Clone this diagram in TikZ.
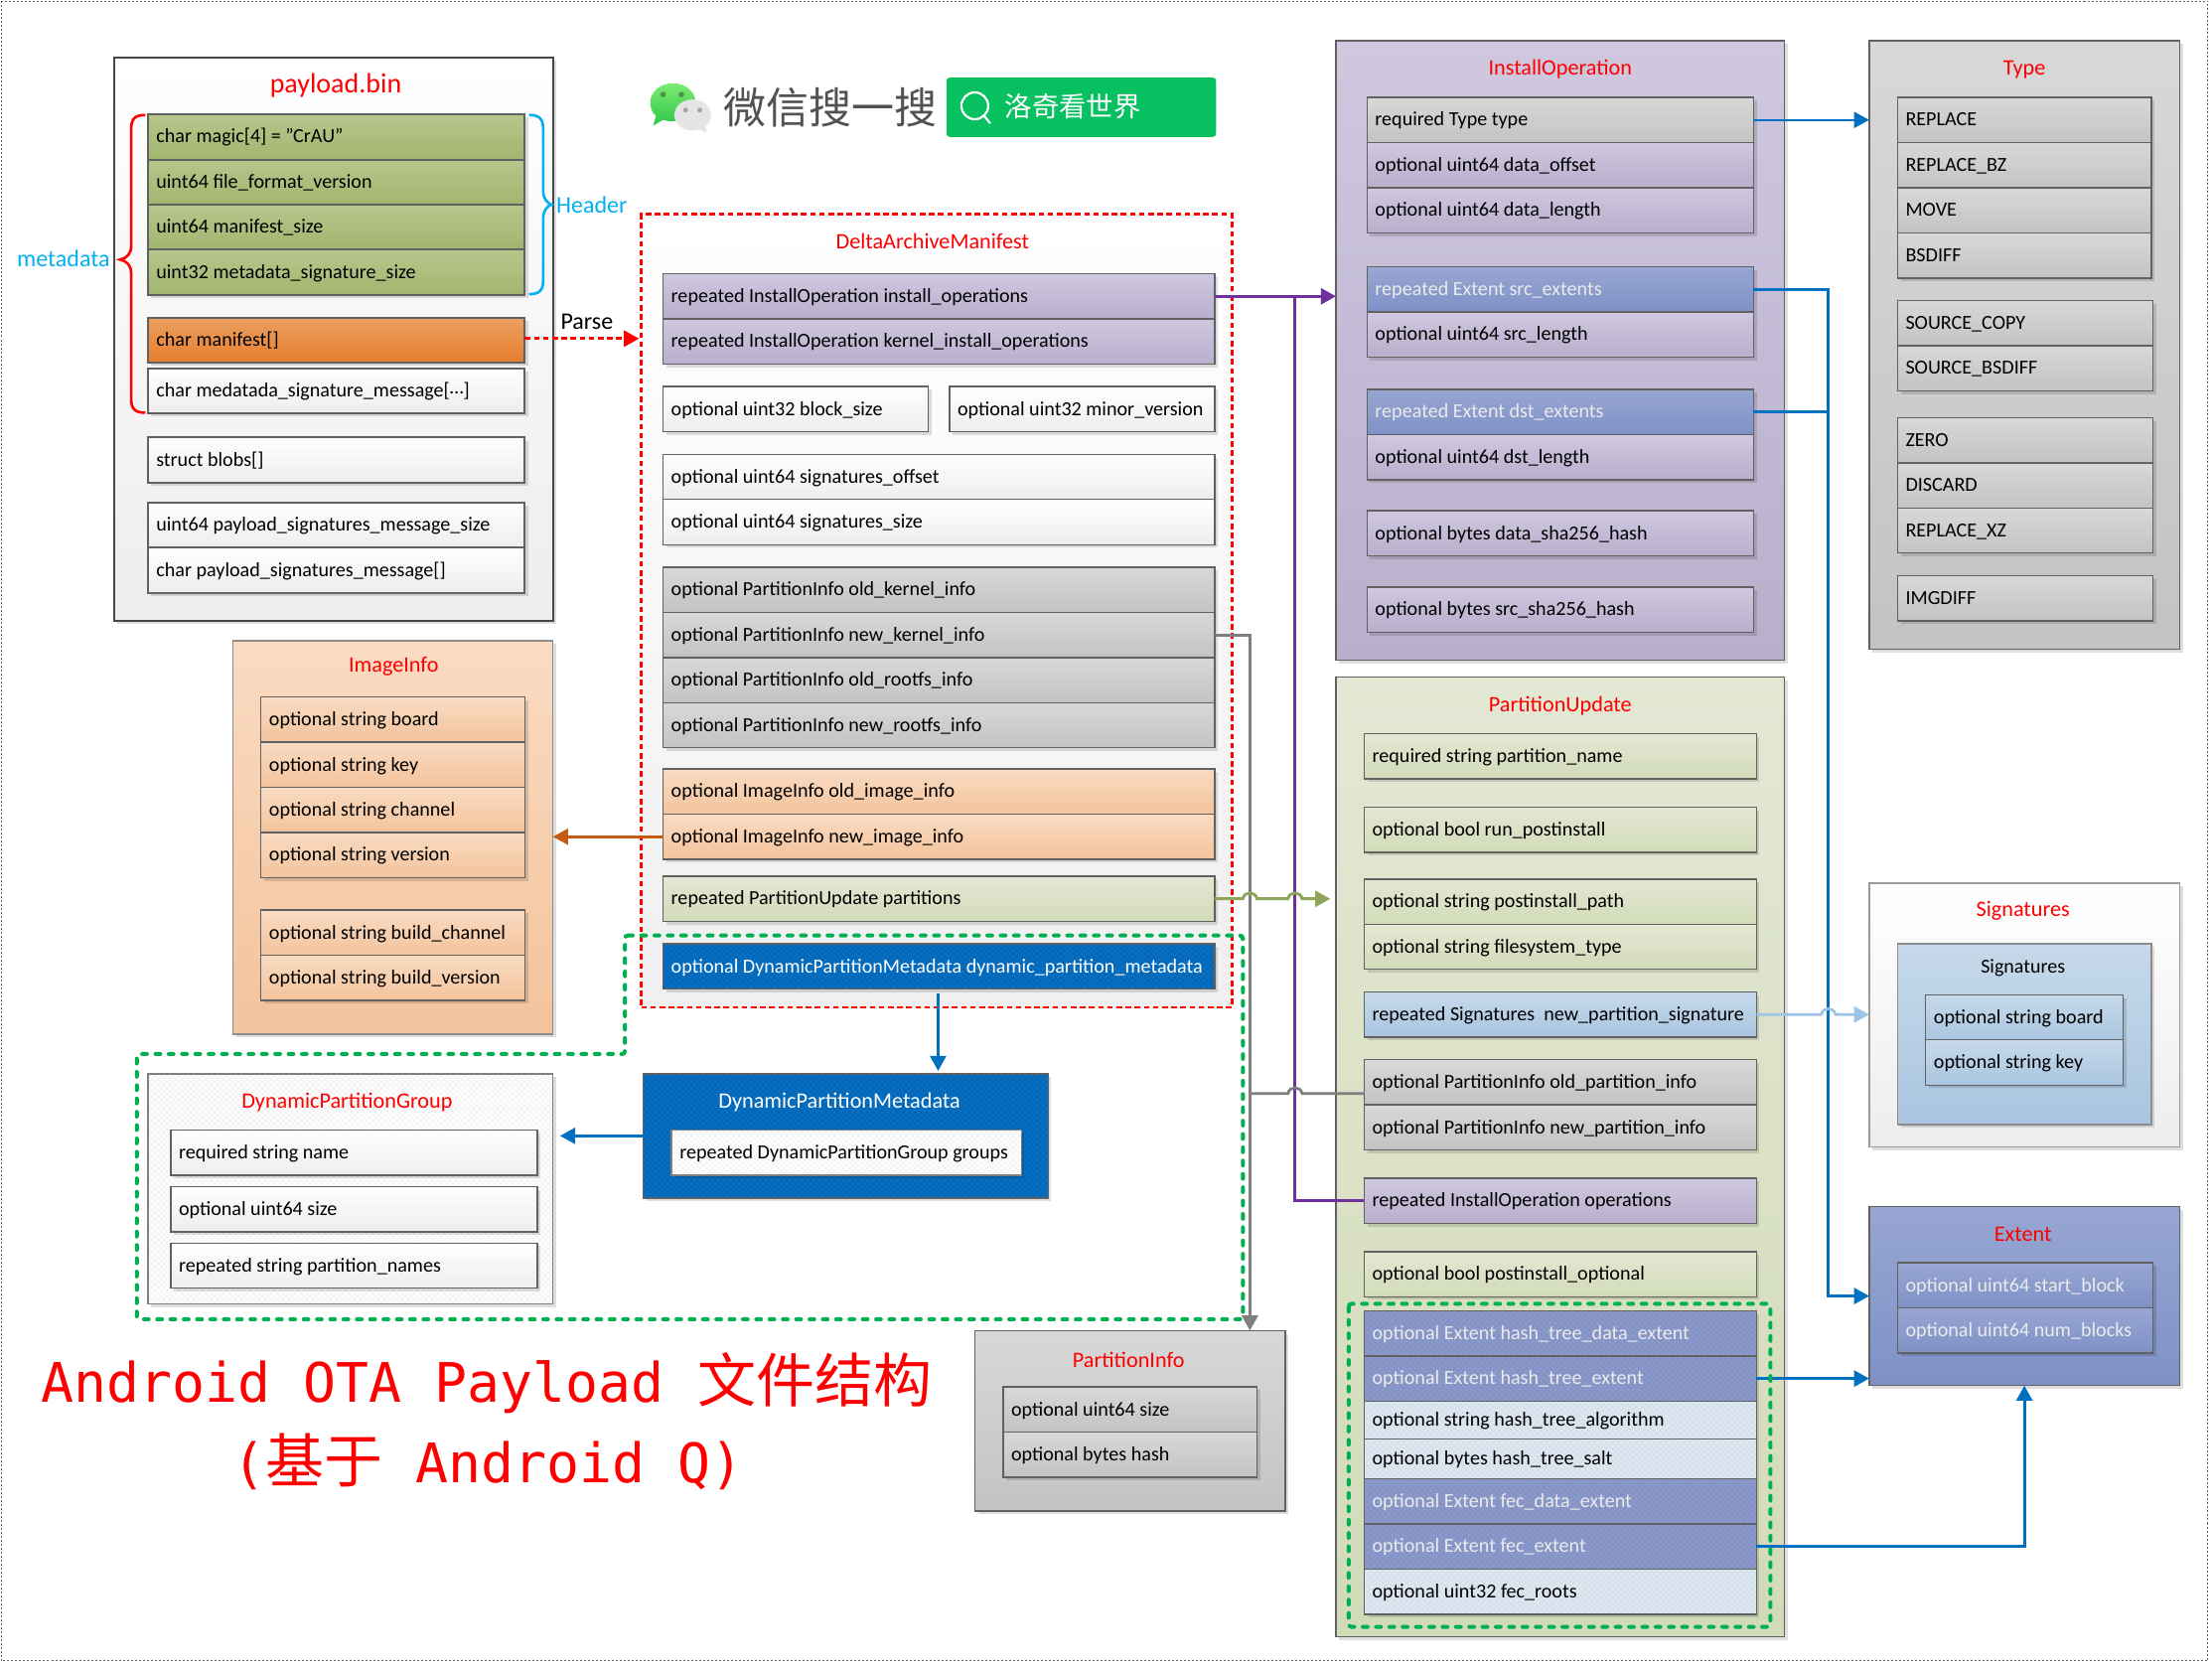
\documentclass[tikz,border=0pt]{standalone}
\usepackage{fontspec}
\setmainfont{Carlito}
\newfontfamily\cjkf{Noto Sans CJK SC}
\newfontfamily\monof{DejaVu Sans Mono}
\usetikzlibrary{shadows,patterns,calc,arrows.meta}
\definecolor{rd}{HTML}{FF0000}
\definecolor{cyn}{HTML}{00B0F0}
\definecolor{grn}{HTML}{00B050}
\definecolor{blu}{HTML}{0070C0}
\definecolor{pur}{HTML}{7030A0}
\definecolor{oli}{HTML}{8FA65A}
\definecolor{gry}{HTML}{7F7F7F}
\definecolor{org}{HTML}{C55A11}
\definecolor{lbl}{HTML}{9DC3E6}
\definecolor{gT}{HTML}{7CEB72}\definecolor{gB}{HTML}{2EC74B}
\definecolor{wxg}{HTML}{07C160}
\definecolor{olT}{HTML}{B7C68C}\definecolor{olB}{HTML}{A2B56E}
\definecolor{orT}{HTML}{EB9F60}\definecolor{orB}{HTML}{E67E30}
\definecolor{puT}{HTML}{CFC8DF}\definecolor{puB}{HTML}{B8AFCC}
\definecolor{grT}{HTML}{D8D8D8}\definecolor{grB}{HTML}{C3C3C3}
\definecolor{peT}{HTML}{FADBC2}\definecolor{peB}{HTML}{F3C39C}
\definecolor{geT}{HTML}{E3E8D4}\definecolor{geB}{HTML}{D2DBB8}
\definecolor{skT}{HTML}{C6D9EA}\definecolor{skB}{HTML}{A9C5E0}
\definecolor{bl1}{HTML}{97A6D2}\definecolor{bl2}{HTML}{7E91C7}
\definecolor{bl3}{HTML}{8C9ACB}\definecolor{bl4}{HTML}{8291C4}
\definecolor{pl1}{HTML}{DEE8F1}\definecolor{pl2}{HTML}{D2DEEA}
\definecolor{dy1}{HTML}{0068BB}\definecolor{dy2}{HTML}{0F72C0}
\tikzset{
 base/.style={draw=black!62,line width=0.7pt,outer sep=0pt,inner sep=0pt,
   drop shadow={shadow xshift=1.6pt,shadow yshift=-1.6pt,opacity=.13,fill=black},
   text height=8pt,text depth=1.8pt,font=\fontsize{10.05}{12}\selectfont},
 reline/.style={postaction={draw=black!62,line width=0.7pt}},
 fwhite/.style={base,top color=white,bottom color=black!7},
 folive/.style={base,top color=olT,bottom color=olB},
 forange/.style={base,top color=orT,bottom color=orB},
 fpurple/.style={base,top color=puT,bottom color=puB},
 fgray/.style={base,top color=grT,bottom color=grB},
 fpeach/.style={base,top color=peT,bottom color=peB},
 fgreen/.style={base,top color=geT,bottom color=geB},
 fsky/.style={base,top color=skT,bottom color=skB},
 fblue/.style={base,top color=bl1,bottom color=bl2,text=white!92!black},
 fhash/.style={base,fill=bl3,text=white!92!black,postaction={pattern=crosshatch,pattern color=bl4},reline},
 fpale/.style={base,fill=pl1,postaction={pattern=crosshatch,pattern color=pl2},reline},
 fdyn/.style={base,fill=dy1,text=white,postaction={pattern=crosshatch,pattern color=dy2},reline},
 fwhash/.style={base,fill=white,draw=black!50,postaction={pattern=crosshatch,pattern color=black!5},postaction={draw=black!50,line width=0.7pt}},
 ctitle/.style={text=rd,inner sep=0pt,yshift=-0.4pt,font=\fontsize{11.1}{13}\selectfont},
 side/.style={text=cyn,inner sep=0pt,font=\fontsize{12}{14}\selectfont},
 redbox/.style={draw=rd,line width=1.4pt,dash pattern=on 2.8pt off 1.8pt,top color=white,bottom color=black!6},
 grndash/.style={draw=grn,line width=2pt,line cap=round,dash pattern=on 2.4pt off 4.3pt,rounded corners=1.5pt},
 conn/.style={line width=#1,-{Triangle[length=7.6pt,width=8pt]}},
 conn/.default=1.3pt,
 hop/.style={to path={.. controls ($(\tikztostart)+(1,-5.5)$) and ($(\tikztotarget)+(-1,-5.5)$) .. (\tikztotarget) \tikztonodes}},
}
\newcommand{\fld}[7]{%
 \pgfmathsetmacro\bw{(#5-#3)*0.71}\pgfmathsetmacro\bh{(#6-#4)*0.71}\pgfmathsetmacro\tw{\bw-8.2}%
 \node[#2,anchor=north west,minimum width=\bw pt,minimum height=\bh pt] (#1) at (#3,#4) {\makebox[\tw pt][l]{#7}};}
\newcommand{\ctr}[6]{%
 \pgfmathsetmacro\bw{(#5-#3)*0.71}\pgfmathsetmacro\bh{(#6-#4)*0.71}%
 \node[#2,anchor=north west,minimum width=\bw pt,minimum height=\bh pt] (#1) at (#3,#4) {};}
\begin{document}
\begin{tikzpicture}[x=0.71pt,y=-0.71pt]
\useasboundingbox (0,0) rectangle (1568,1181);
\fill[white] (0,0) rectangle (1568,1181);
\draw[black!60,line width=0.7pt,dash pattern=on 1pt off 1pt] (1,1) rectangle (1565,1177);

% ---------- logo
\shade[top color=gT,bottom color=gB] (477,59) .. controls (486,59) and (493,65) .. (493,72.5) .. controls (493,80) and (486,86) .. (477,86) .. controls (474,86) and (472,85.5) .. (470,85) -- (463,89) -- (465,82) .. controls (462,80) and (461,76) .. (461,72.5) .. controls (461,65) and (468,59) .. (477,59) -- cycle;
\fill[gray!20] (491,70.5) .. controls (498.5,70.5) and (504,75.5) .. (504,81.5) .. controls (504,85) and (502,88) .. (500,89.5) -- (501,94) -- (495,91.8) .. controls (493.5,92.3) and (492,92.5) .. (491,92.5) .. controls (483.5,92.5) and (478,87.5) .. (478,81.5) .. controls (478,75.5) and (483.5,70.5) .. (491,70.5) -- cycle;
\fill[green!40!black!70] (470,67) circle (2)  (483,67) circle (2);
\fill[gray!70] (486,78) circle (1.8) (496,78) circle (1.8);
\node[inner sep=0pt,text=black!68,font=\cjkf\fontsize{21.5}{24}\selectfont] (wxs) at (588.5,76.5) {微信搜一搜};
\node[draw=none,fill=wxg,rounded corners=1.5pt,minimum width=135.6pt,minimum height=29.8pt,inner sep=0pt] (wxb) at (766.5,76) {};
\node[inner sep=0pt,text=white,font=\cjkf\fontsize{13.7}{16}\selectfont] (wxn) at (760.5,75.5) {洛奇看世界};
\draw[white,line width=1.1pt] (691,75) circle (9.5);
\draw[white,line width=1.1pt] (697.5,82) -- (702,87.5);

% ---------- payload.bin
\ctr{pay}{fwhite,draw=black!72,line width=1pt}{81}{41}{392}{440}
\node[ctitle,font=\fontsize{14}{16}\selectfont] (payT) at (238,60) {payload.bin};
\fld{magic}{folive,line width=1pt}{105}{81}{372}{113}{char magic[4] = "CrAU"}
\fld{ffv}{folive,line width=1pt}{105}{113}{372}{145}{uint64 file\_format\_version}
\fld{mfs}{folive,line width=1pt}{105}{145}{372}{177}{uint64 manifest\_size}
\fld{mss}{folive,line width=1pt}{105}{177}{372}{209}{uint32 metadata\_signature\_size}
\fld{cman}{forange,line width=1pt}{105}{225}{372}{257}{char manifest[]}
\fld{cmed}{fwhite,line width=1pt}{105}{261}{372}{293}{char medatada\_signature\_message[\raisebox{0.35ex}{…}]}
\fld{blobs}{fwhite,line width=1pt}{105}{310}{372}{342}{struct blobs[]}
\fld{psize}{fwhite,line width=1pt}{105}{356}{372}{388}{uint64 payload\_signatures\_message\_size}
\fld{pmsg}{fwhite,line width=1pt}{105}{388}{372}{420}{char payload\_signatures\_message[]}
% braces
\draw[rd,line width=1.3pt] (103,81.5) .. controls (96,81.5) and (93,84) .. (93,91) -- (93,174) .. controls (93,180) and (90,183) .. (85,184) .. controls (90,185) and (93,188) .. (93,194) -- (93,283) .. controls (93,290) and (96,292.5) .. (103,292.5);
\draw[cyn,line width=1.3pt] (375,81.5) .. controls (382,81.5) and (385,84) .. (385,91) -- (385,135) .. controls (385,141) and (388,144) .. (391,145) .. controls (388,146) and (385,149) .. (385,155) -- (385,199) .. controls (385,206) and (382,208.5) .. (375,208.5);
\node[side] (meta) at (45,183.5) {metadata};
\node[side] (hdr) at (419.5,145) {Header};
\node[inner sep=0pt,font=\fontsize{12}{14}\selectfont] (parse) at (416,228) {Parse};

% ---------- DeltaArchiveManifest
\ctr{dam}{redbox}{453.5}{151}{872.5}{713}
\node[ctitle] (damT) at (661,170.5) {DeltaArchiveManifest};
\fld{inst}{fpurple}{470}{194}{861}{226}{repeated InstallOperation install\_operations}
\fld{kinst}{fpurple}{470}{226}{861}{258}{repeated InstallOperation kernel\_install\_operations}
\fld{bsz}{fwhite}{470}{274}{658}{306}{optional uint32 block\_size}
\fld{minv}{fwhite}{673}{274}{861}{306}{optional uint32 minor\_version}
\fld{sigo}{fwhite}{470}{322}{861}{354}{optional uint64 signatures\_offset}
\fld{sigs}{fwhite}{470}{354}{861}{386}{optional uint64 signatures\_size}
\fld{okern}{fgray}{470}{402}{861}{434}{optional PartitionInfo old\_kernel\_info}
\fld{nkern}{fgray}{470}{434}{861}{466}{optional PartitionInfo new\_kernel\_info}
\fld{oroot}{fgray}{470}{466}{861}{498}{optional PartitionInfo old\_rootfs\_info}
\fld{nroot}{fgray}{470}{498}{861}{530}{optional PartitionInfo new\_rootfs\_info}
\fld{oimg}{fpeach}{470}{545}{861}{577}{optional ImageInfo old\_image\_info}
\fld{nimg}{fpeach}{470}{577}{861}{609}{optional ImageInfo new\_image\_info}
\fld{parts}{fgreen}{470}{621}{861}{653}{repeated PartitionUpdate partitions}
\fld{dynf}{fdyn}{470}{669}{861}{701}{optional DynamicPartitionMetadata dynamic\_partition\_metadata}

% ---------- ImageInfo
\ctr{img}{fpeach,draw=black!45}{165}{454}{392}{733}
\node[ctitle] (imgT) at (279,472) {ImageInfo};
\fld{ib}{fpeach}{185}{494}{372}{526}{optional string board}
\fld{ik}{fpeach}{185}{526}{372}{558}{optional string key}
\fld{ic}{fpeach}{185}{558}{372}{590}{optional string channel}
\fld{iv}{fpeach}{185}{590}{372}{622}{optional string version}
\fld{ibc}{fpeach}{185}{645}{372}{677}{optional string build\_channel}
\fld{ibv}{fpeach}{185}{677}{372}{709}{optional string build\_version}

% ---------- DynamicPartitionGroup
\ctr{dpg}{fwhash,draw=black!45}{105}{761}{392}{924}
\node[ctitle] (dpgT) at (246,781) {DynamicPartitionGroup};
\fld{gn}{fwhite}{121}{801}{381}{833}{required string name}
\fld{gs}{fwhite}{121}{841}{381}{873}{optional uint64 size}
\fld{gp}{fwhite}{121}{881}{381}{913}{repeated string partition\_names}

% ---------- DynamicPartitionMetadata
\ctr{dpm}{fdyn}{456}{761}{743}{849}
\node[ctitle,text=white] (dpmT) at (595,781) {DynamicPartitionMetadata};
\fld{dg}{fwhash}{476}{801}{724}{833}{repeated DynamicPartitionGroup groups}

% ---------- big title
\node[inner sep=0pt,text=rd,anchor=base west,font=\monof\fontsize{27.4}{32}\selectfont] (big1) at (29,994) {Android OTA Payload\hspace{17pt}{\cjkf\fontsize{29.5}{32}\selectfont 文件结构}};
\node[inner sep=0pt,text=rd,anchor=base west,font=\monof\fontsize{27.4}{32}\selectfont] (big2) at (165,1051) {({\cjkf\fontsize{29.5}{32}\selectfont 基于} Android Q)};

% ---------- PartitionInfo
\ctr{pinfo}{fgray}{691}{943}{911}{1071}
\node[ctitle] (pinfoT) at (800,963.5) {PartitionInfo};
\fld{pis}{fgray}{711}{983}{891}{1015}{optional uint64 size}
\fld{pih}{fgray}{711}{1015}{891}{1047}{optional bytes hash}

% ---------- InstallOperation
\ctr{iop}{fpurple}{947}{29}{1265}{468}
\node[ctitle] (iopT) at (1106,48.5) {InstallOperation};
\fld{iot}{fgray}{969}{69}{1243}{101}{required Type type}
\fld{iod}{fpurple}{969}{101}{1243}{133}{optional uint64 data\_offset}
\fld{iol}{fpurple}{969}{133}{1243}{165}{optional uint64 data\_length}
\fld{iose}{fblue}{969}{189}{1243}{221}{repeated Extent src\_extents}
\fld{iosl}{fpurple}{969}{221}{1243}{253}{optional uint64 src\_length}
\fld{iode}{fblue}{969}{276}{1243}{308}{repeated Extent dst\_extents}
\fld{iodl}{fpurple}{969}{308}{1243}{340}{optional uint64 dst\_length}
\fld{iodh}{fpurple}{969}{362}{1243}{394}{optional bytes data\_sha256\_hash}
\fld{iosh}{fpurple}{969}{416}{1243}{448}{optional bytes src\_sha256\_hash}

% ---------- Type
\ctr{typ}{fgray}{1325}{29}{1545}{460}
\node[ctitle] (typT) at (1435,48.5) {Type};
\fld{t1}{fgray}{1345}{69}{1525}{101}{REPLACE}
\fld{t2}{fgray}{1345}{101}{1525}{133}{REPLACE\_BZ}
\fld{t3}{fgray}{1345}{133}{1525}{165}{MOVE}
\fld{t4}{fgray}{1345}{165}{1525}{197}{BSDIFF}
\fld{t5}{fgray}{1345}{213}{1526}{245}{SOURCE\_COPY}
\fld{t6}{fgray}{1345}{245}{1526}{277}{SOURCE\_BSDIFF}
\fld{t7}{fgray}{1345}{296}{1526}{328}{ZERO}
\fld{t8}{fgray}{1345}{328}{1526}{360}{DISCARD}
\fld{t9}{fgray}{1345}{360}{1526}{392}{REPLACE\_XZ}
\fld{t10}{fgray}{1345}{408}{1526}{440}{IMGDIFF}

% ---------- PartitionUpdate
\ctr{pu}{fgreen}{947}{480}{1265}{1160}
\node[ctitle] (puT) at (1106,499.5) {PartitionUpdate};
\fld{pun}{fgreen}{967}{520}{1245}{552}{required string partition\_name}
\fld{pur}{fgreen}{967}{572}{1245}{604}{optional bool run\_postinstall}
\fld{pup}{fgreen}{967}{623}{1245}{655}{optional string postinstall\_path}
\fld{puf}{fgreen}{967}{655}{1245}{687}{optional string filesystem\_type}
\fld{pus}{fsky}{967}{703}{1245}{735}{repeated Signatures\ \ new\_partition\_signature}
\fld{puo}{fgray}{967}{751}{1245}{783}{optional PartitionInfo old\_partition\_info}
\fld{pue}{fgray}{967}{783}{1245}{815}{optional PartitionInfo new\_partition\_info}
\fld{puio}{fpurple}{967}{835}{1245}{867}{repeated InstallOperation operations}
\fld{pupi}{fgreen}{967}{887}{1245}{919}{optional bool postinstall\_optional}
\fld{h1}{fhash}{967}{929}{1245}{961}{optional Extent hash\_tree\_data\_extent}
\fld{h2}{fhash}{967}{961}{1245}{993}{optional Extent hash\_tree\_extent}
\fld{h3}{fpale}{967}{993}{1245}{1020}{optional string hash\_tree\_algorithm}
\fld{h4}{fpale}{967}{1020}{1245}{1048}{optional bytes hash\_tree\_salt}
\fld{h5}{fhash}{967}{1048}{1245}{1080}{optional Extent fec\_data\_extent}
\fld{h6}{fhash}{967}{1080}{1245}{1112}{optional Extent fec\_extent}
\fld{h7}{fpale}{967}{1112}{1245}{1144}{optional uint32 fec\_roots}

% ---------- Signatures
\ctr{sigO}{fwhite,draw=black!40}{1325}{626}{1545}{813}
\node[ctitle] (sigT) at (1434,645) {Signatures};
\ctr{sigI}{fsky,draw=black!45}{1345}{669}{1525}{797}
\node[ctitle,text=black,font=\fontsize{10}{12}\selectfont] (sigIT) at (1434,685.5) {Signatures};
\fld{sb}{fsky}{1365}{705}{1505}{737}{optional string board}
\fld{sk}{fsky}{1365}{737}{1505}{769}{optional string key}

% ---------- Extent
\ctr{ext}{fblue}{1325}{855}{1545}{982}
\node[ctitle] (extT) at (1434,874.5) {Extent};
\fld{es}{fblue}{1345}{895}{1526}{927}{optional uint64 start\_block}
\fld{en}{fblue}{1345}{927}{1526}{959}{optional uint64 num\_blocks}

% ---------- connectors
\coordinate (railG) at (886,0);
\coordinate (railP) at (918,0);
\coordinate (railB) at (1296,0);
\coordinate (dam2) at (453,240);
\coordinate (imgIn) at (392,593);
\coordinate (dpgIn) at (397,805);
\coordinate (dpmIn) at (665,759);
\coordinate (dynOut) at (665,704);
\coordinate (partOut) at (943,637);
\coordinate (fecIn) at (1435,982);
\coordinate (fecBend) at (1435,1096);
\coordinate (pinfIn) at (886,943);
\coordinate (oldIn) at (967,775);

\draw[rd,line width=1.4pt,dash pattern=on 2.8pt off 1.8pt,-{Triangle[length=7.6pt,width=8pt]}] (cman.east |- dam2) -- (dam2);
% purple
\draw[pur,line width=1.4pt] (puio.west) -- (railP |- puio.west) -- (railP |- inst.east);
\draw[pur,conn=1.5pt] (inst.east) -- (iop.west |- inst.east);
% gray
\draw[gry,conn=1.6pt] (nkern.east) -- (railG |- nkern.east) -- (pinfIn);
\draw[gry,line width=1.4pt] (railG |- oldIn) -- ($(railP |- oldIn)+(-5,0)$) to[hop] ($(railP |- oldIn)+(5,0)$) -- (oldIn);
% olive
\draw[oli,conn=1.5pt] (parts.east) -- ($(railG |- parts.east)+(-5,0)$) to[hop] ($(railG |- parts.east)+(5,0)$) -- ($(railP |- parts.east)+(-5,0)$) to[hop] ($(railP |- parts.east)+(5,0)$) -- (partOut);
% orange
\draw[org,conn=1.3pt] (nimg.west) -- (imgIn);
% blue
\draw[blu,conn=1.3pt] (dynOut) -- (dpmIn);
\draw[blu,conn=1.3pt] (dpm.west |- dpgIn) -- (dpgIn);
\draw[blu,conn=1pt] (iot.east) -- (typ.west |- iot.east);
\draw[blu,line width=1.4pt] (iode.east) -- (railB |- iode.east);
\draw[blu,conn=1.4pt] (iose.east) -- (railB |- iose.east) -- (railB |- ext.west) -- (ext.west);
\draw[blu,conn=1.4pt] (h2.east) -- (ext.west |- h2.east);
\draw[blu,conn=1.4pt] (h6.east) -- (fecBend) -- (fecIn);
% light blue
\draw[lbl,conn=1.3pt] (pus.east) -- ($(railB |- pus.east)+(-5,0)$) to[hop] ($(railB |- pus.east)+(5,0)$) -- (sigO.west |- pus.east);

% green dashed regions
\draw[grndash] (443,663) -- (881,663) -- (881,935) -- (97,935) -- (97,747) -- (443,747) -- cycle;
\draw[grndash] (956,924) rectangle (1255,1153);
\end{tikzpicture}
\end{document}
